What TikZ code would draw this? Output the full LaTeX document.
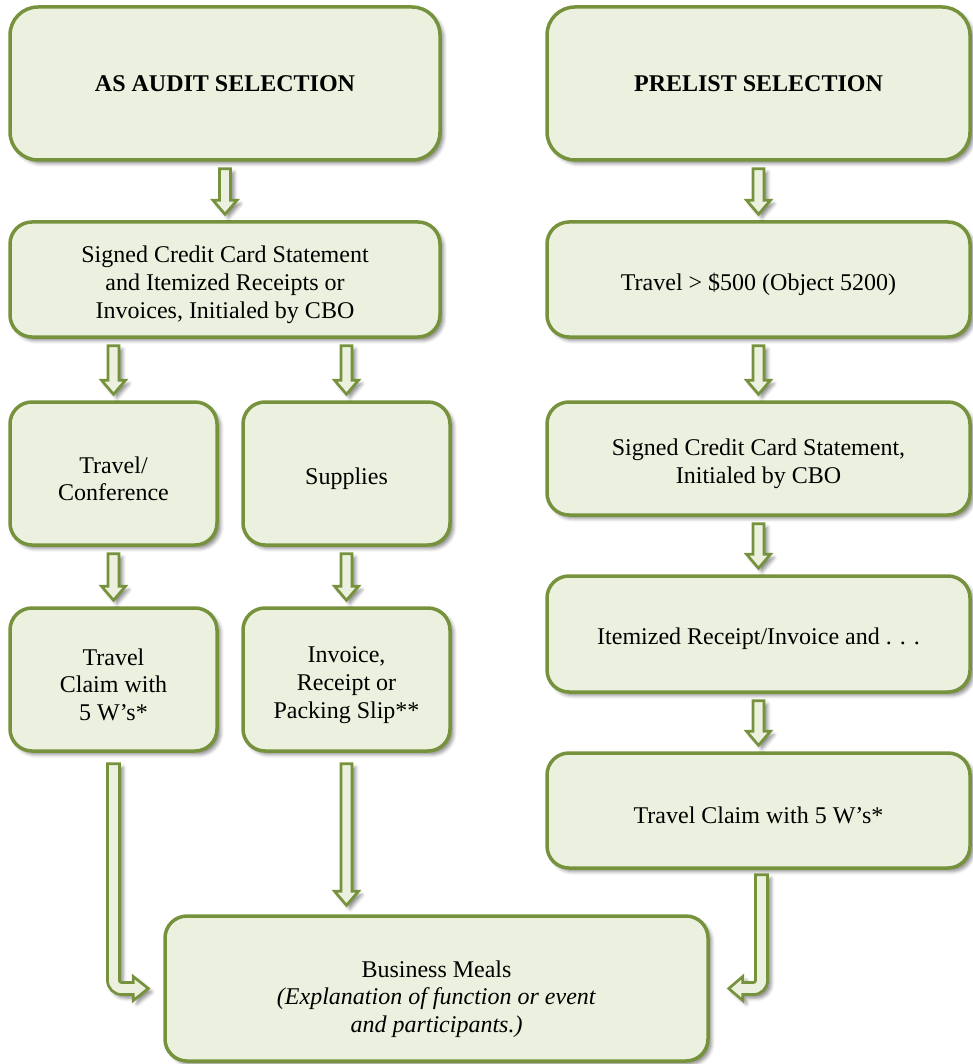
\documentclass[tikz,border=0pt]{standalone}
\usepackage{fontspec}
\setmainfont{Liberation Serif}
\usetikzlibrary{calc,shadows.blur}
\definecolor{boxgreen}{HTML}{76923C}
\definecolor{boxfill}{HTML}{EBF1DE}
\tikzset{
  myshadow/.style={blur shadow={shadow xshift=3.5pt, shadow yshift=-3.5pt, shadow blur radius=3.5pt, shadow opacity=45}},
  box/.style={draw=boxgreen, line width=3.5pt, fill=boxfill, rounded corners=22pt,
    align=center, inner sep=0pt, font=\fontsize{24}{27.6}\selectfont, myshadow},
  topbox/.style={box, rounded corners=28pt, font=\fontsize{24}{27.6}\selectfont\bfseries},
  barrow/.style={draw=boxgreen, line width=2.7pt, fill=boxfill, line join=miter, myshadow}
}
\newcommand\blockdn[2]{%
  \draw[barrow] let \p1=(#1.south), \p2=(#2.north) in
   (\x2-5.5pt,\y1-7pt) -- (\x2-5.5pt,\y2+20pt) -- (\x2-12pt,\y2+20pt) -- (\x2,\y2+6pt)
   -- (\x2+12pt,\y2+20pt) -- (\x2+5.5pt,\y2+20pt) -- (\x2+5.5pt,\y1-7pt) -- cycle;}
\newcommand\lowr{\rule{0pt}{27pt}}
\begin{document}
\begin{tikzpicture}[x=1pt,y=-1pt]
\useasboundingbox (0,0) rectangle (972,1064);
% boxes
\node[topbox, minimum width=430pt, minimum height=153pt] (as) at (225,83.5) {AS AUDIT SELECTION};
\node[topbox, minimum width=423pt, minimum height=153pt] (pre) at (758.5,83.5) {PRELIST SELECTION};
\node[box, minimum width=430pt, minimum height=115pt] (scc) at (225,279.5) {\lowr Signed Credit Card Statement\\and Itemized Receipts or\\Invoices, Initialed by CBO};
\node[box, minimum width=423pt, minimum height=115pt] (t500) at (758.5,279.5) {\lowr Travel > \$500 (Object 5200)};
\node[box, minimum width=207pt, minimum height=143pt] (tc) at (113.5,473.5) {\lowr Travel/\\Conference};
\node[box, minimum width=207pt, minimum height=143pt] (sup) at (346.5,473.5) {\lowr Supplies};
\node[box, minimum width=423pt, minimum height=113pt] (scc2) at (758.5,458.5) {\lowr Signed Credit Card Statement,\\Initialed by CBO};
\node[box, minimum width=207pt, minimum height=143pt] (tcl) at (113.5,679.5) {\lowr Travel\\Claim with\\5 W’s*};
\node[box, minimum width=207pt, minimum height=143pt] (inv) at (346.5,679.5) {\lowr Invoice,\\Receipt or\\Packing Slip**};
\node[box, minimum width=423pt, minimum height=116pt] (item) at (758.5,634) {\lowr Itemized Receipt/Invoice and . . .};
\node[box, minimum width=423pt, minimum height=115pt] (tcr) at (758.5,810.5) {\lowr Travel Claim with 5 W’s*};
\node[box, minimum width=543pt, minimum height=145pt] (bm) at (436.5,988.5) {\rule{0pt}{38pt}Business Meals\\\textit{(Explanation of function or event}\\\textit{and participants.)}};
% straight arrows
\blockdn{as}{scc}
\blockdn{pre}{t500}
\blockdn{scc}{tc}
\blockdn{scc}{sup}
\blockdn{t500}{scc2}
\blockdn{tc}{tcl}
\blockdn{sup}{inv}
\blockdn{scc2}{item}
\blockdn{item}{tcr}
% middle long arrow
\draw[barrow] let \p1=(inv.south), \p2=(bm.north) in
  (\x1-5.5pt,\y1-11pt) -- (\x1-5.5pt,\y2+23pt) -- (\x1-12pt,\y2+23pt) -- (\x1,\y2+9pt)
  -- (\x1+12pt,\y2+23pt) -- (\x1+5.5pt,\y2+23pt) -- (\x1+5.5pt,\y1-11pt) -- cycle;
% left bent arrow
\draw[barrow] let \p1=(tcl.south), \p2=(bm.west) in
  (\x1-6pt,\y1-11pt) -- (\x1-6pt,\y2+8pt) arc[start angle=180,end angle=270,radius=14pt]
  -- (\x2-30pt,\y2-6pt) -- (\x2-30pt,\y2-12pt) -- (\x2-15pt,\y2) -- (\x2-30pt,\y2+12pt)
  -- (\x2-30pt,\y2+6pt) -- (\x1+8pt,\y2+6pt) arc[start angle=270,end angle=180,radius=2pt]
  -- (\x1+6pt,\y1-11pt) -- cycle;
% right bent arrow
\draw[barrow] let \p1=($(tcr.south)+(3,0)$), \p2=(bm.east) in
  (\x1+6pt,\y1-5pt) -- (\x1+6pt,\y2+8pt) arc[start angle=0,end angle=-90,radius=14pt]
  -- (\x2+33pt,\y2-6pt) -- (\x2+33pt,\y2-12pt) -- (\x2+19pt,\y2) -- (\x2+33pt,\y2+12pt)
  -- (\x2+33pt,\y2+6pt) -- (\x1-8pt,\y2+6pt) arc[start angle=-90,end angle=0,radius=2pt]
  -- (\x1-6pt,\y1-5pt) -- cycle;
\end{tikzpicture}
\end{document}
